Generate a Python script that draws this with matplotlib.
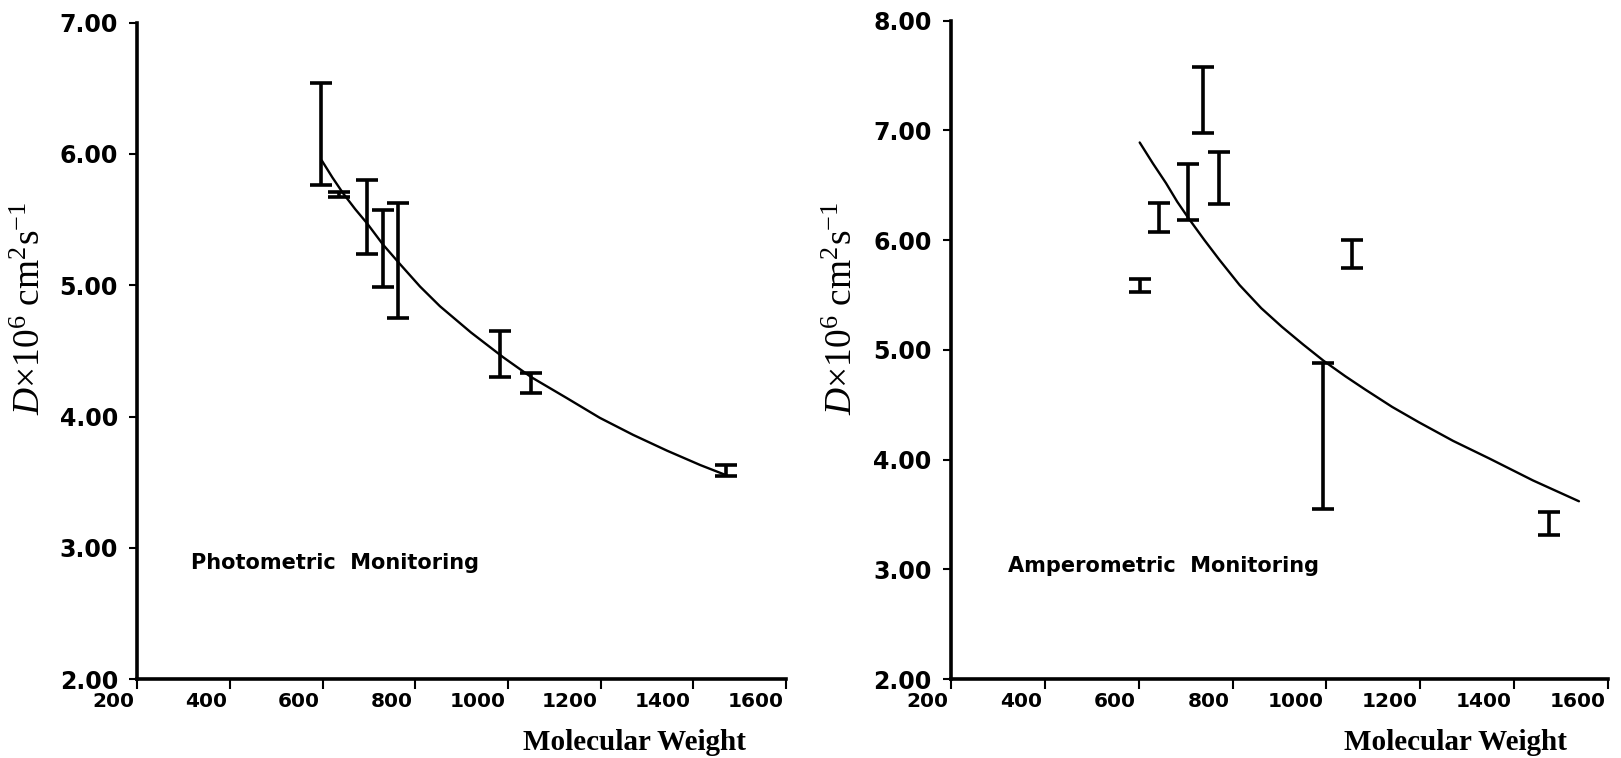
import matplotlib
matplotlib.use('Agg')
import matplotlib.pyplot as plt
import matplotlib.transforms as mtransforms

# ---------------- data ----------------
# Photometric monitoring (left panel)
photo_mw = [596, 635, 696, 730, 763, 983, 1050, 1471]
photo_lo = [5.76, 5.67, 5.24, 4.99, 4.75, 4.30, 4.18, 3.55]
photo_hi = [6.54, 5.71, 5.80, 5.57, 5.63, 4.65, 4.33, 3.63]
photo_fit_mw = [598, 621, 644, 670, 696, 730, 767, 810, 853, 920, 990, 1050, 1127, 1198,
                1270, 1343, 1415, 1473]
photo_fit_d = [5.95, 5.82, 5.70, 5.58, 5.47, 5.31, 5.16, 4.99, 4.84, 4.64, 4.45, 4.30, 4.14,
               3.99, 3.86, 3.74, 3.63, 3.55]

# Amperometric monitoring (right panel)
amp_mw = [602, 643, 706, 737, 771, 992, 1055, 1475]
amp_lo = [5.53, 6.07, 6.18, 6.98, 6.33, 3.55, 5.75, 3.31]
amp_hi = [5.65, 6.34, 6.69, 7.58, 6.80, 4.88, 6.00, 3.52]
amp_fit_mw = [602, 630, 658, 682, 706, 740, 772, 815, 861, 905, 950, 994, 1040, 1082, 1140,
              1197, 1270, 1347, 1440, 1538]
amp_fit_d = [6.89, 6.70, 6.52, 6.35, 6.20, 6.00, 5.82, 5.59, 5.38, 5.21, 5.05, 4.90, 4.76,
             4.64, 4.48, 4.34, 4.17, 4.01, 3.81, 3.62]

x_ticks = [200, 400, 600, 800, 1000, 1200, 1400, 1600]
left_y_ticks = [2.00, 3.00, 4.00, 5.00, 6.00, 7.00]
right_y_ticks = [2.00, 3.00, 4.00, 5.00, 6.00, 7.00, 8.00]

left_title = "Photometric  Monitoring"
right_title = "Amperometric  Monitoring"
x_label = "Molecular Weight"
y_label = r"$\mathit{D}$$\times$10$^{6}$ cm$^{2}$s$^{-1}$"

# ---------------- style ----------------
plt.rcParams['mathtext.fontset'] = 'custom'
plt.rcParams['mathtext.rm'] = 'Liberation Serif'
plt.rcParams['mathtext.it'] = 'Liberation Serif:italic'
plt.rcParams['mathtext.bf'] = 'Liberation Serif:bold'

fig = plt.figure(figsize=(16.21, 7.58), dpi=100)
ax1 = fig.add_axes([0.0848, 0.1042, 0.4001, 0.8658])
ax2 = fig.add_axes([0.5867, 0.1042, 0.4053, 0.8685])

panels = [
    (ax1, photo_mw, photo_lo, photo_hi, photo_fit_mw, photo_fit_d,
     left_y_ticks, (2.0, 7.0), left_title, (316, 2.885)),
    (ax2, amp_mw, amp_lo, amp_hi, amp_fit_mw, amp_fit_d,
     right_y_ticks, (2.0, 8.0), right_title, (321, 3.03)),
]

for ax, mw, lo, hi, fmw, fd, yt, ylim, title, tpos in panels:
    mid = [(a + b) / 2 for a, b in zip(lo, hi)]
    half = [(b - a) / 2 for a, b in zip(lo, hi)]
    ax.errorbar(mw, mid, yerr=half, fmt='none', ecolor='black',
                elinewidth=2.6, capsize=8, capthick=2.6)
    ax.plot(fmw, fd, color='black', lw=1.7, solid_joinstyle='round',
            solid_capstyle='round')

    ax.set_xlim(200, 1600)
    ax.set_ylim(*ylim)
    ax.set_xticks(x_ticks)
    ax.set_xticklabels([str(v) for v in x_ticks])
    ax.set_yticks(yt)
    ax.set_yticklabels([f"{v:.2f}" for v in yt])

    for side in ('top', 'right'):
        ax.spines[side].set_visible(False)
    for side in ('left', 'bottom'):
        ax.spines[side].set_linewidth(2.6)
        ax.spines[side].set_color('black')

    ax.tick_params(axis='y', direction='out', length=6, width=1.5, pad=8,
                   labelsize=17)
    ax.tick_params(axis='x', direction='out', length=7, width=1.5, pad=2,
                   labelsize=14.5)
    for lab in ax.get_yticklabels():
        lab.set_fontweight('bold')
    offset = mtransforms.ScaledTranslation(-2 / 72, 0, fig.dpi_scale_trans)
    for lab in ax.get_xticklabels():
        lab.set_fontweight('bold')
        lab.set_horizontalalignment('right')
        lab.set_transform(lab.get_transform() + offset)

    ax.text(tpos[0], tpos[1], title, fontsize=15, fontweight='bold',
            family='DejaVu Sans', ha='left', va='center')
    ax.text(0.767, -0.096, x_label, transform=ax.transAxes, fontsize=21,
            fontweight='bold', family='Liberation Serif', ha='center', va='center')
    ax.patch.set_alpha(0)

fig.text(31 / 1621, 1 - 308 / 758, y_label, rotation=90, ha='center', va='center',
         fontsize=27, family='Liberation Serif')
fig.text(843 / 1621, 1 - 308 / 758, y_label, rotation=90, ha='center', va='center',
         fontsize=27, family='Liberation Serif')

fig.savefig('out.png', dpi=100, facecolor='white')
